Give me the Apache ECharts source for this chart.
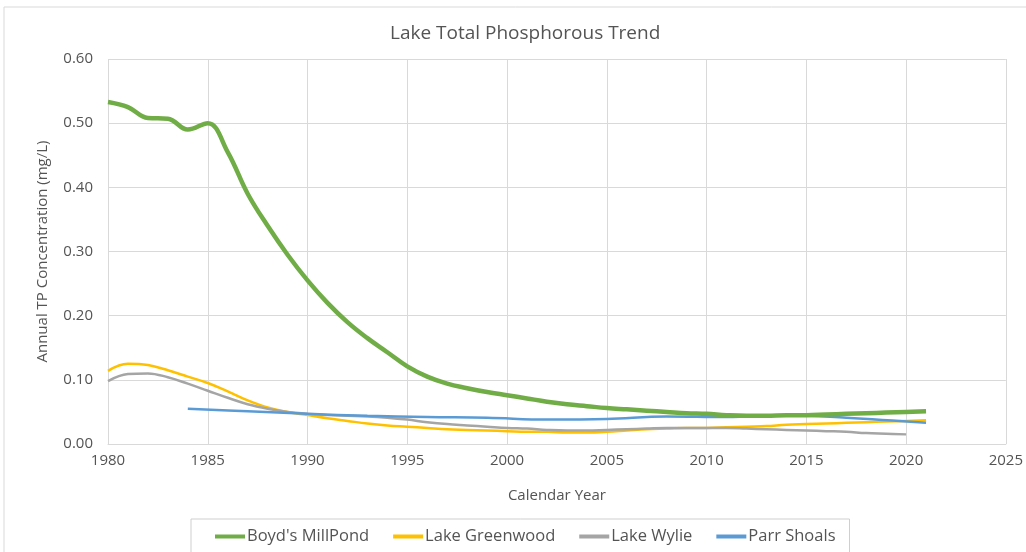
<!DOCTYPE html>
<html><head><meta charset="utf-8">
<script src="https://cdn.jsdelivr.net/npm/echarts@6/dist/echarts.min.js"></script>
<style>html,body{margin:0;padding:0;background:#fff}#c{width:1026px;height:552px}</style>
</head><body><div id="c"></div>
<script>
const boydYears = [1980,1981,1982,1983,1984,1985,1986,1987,1988,1989,1990,1991,1992,1993,1994,1995,1996,1997,1998,1999,2000,2001,2002,2003,2004,2005,2006,2007,2008,2009,2010,2011,2012,2013,2014,2015,2016,2017,2018,2019,2020,2021];
const boydValues = [0.533,0.525,0.508,0.507,0.490,0.500,0.455,0.390,0.340,0.295,0.255,0.220,0.190,0.165,0.143,0.121,0.105,0.094,0.087,0.081,0.076,0.071,0.066,0.062,0.059,0.056,0.054,0.052,0.050,0.048,0.047,0.045,0.044,0.044,0.045,0.045,0.046,0.047,0.048,0.049,0.050,0.051];
const greenwoodYears = boydYears;
const greenwoodValues = [0.114,0.125,0.123,0.115,0.105,0.095,0.082,0.068,0.057,0.050,0.045,0.040,0.036,0.032,0.029,0.027,0.025,0.023,0.022,0.021,0.020,0.019,0.019,0.018,0.018,0.019,0.021,0.023,0.024,0.025,0.025,0.026,0.027,0.028,0.030,0.031,0.032,0.033,0.034,0.035,0.036,0.037];
const wylieYears = boydYears.slice(0,41);
const wylieValues = [0.098,0.109,0.110,0.104,0.094,0.083,0.072,0.062,0.055,0.050,0.047,0.045,0.044,0.043,0.041,0.038,0.034,0.031,0.029,0.027,0.025,0.024,0.022,0.021,0.021,0.022,0.023,0.024,0.025,0.025,0.025,0.025,0.024,0.023,0.022,0.021,0.020,0.019,0.017,0.016,0.015];
const parrYears = [1984,1987,1990,1993,1996,1999,2002,2005,2008,2011,2014,2017,2021];
const parrValues = [0.055,0.051,0.047,0.044,0.042,0.041,0.038,0.039,0.043,0.042,0.045,0.041,0.033];
const yTicks = [0,0.1,0.2,0.3,0.4,0.5,0.6];

const pair = (xs, ys) => xs.map((x,i)=>[x, ys[i]]);
const font = 'Open Sans';
const txt = '#545454';
const chart = echarts.init(document.getElementById('c'));
chart.setOption({
  backgroundColor:'#fff',
  animation:false,
  graphic:[{type:'rect',shape:{x:4,y:7,width:1040,height:560},style:{fill:'none',stroke:'#d9d9d9',lineWidth:1},silent:true,z:-1}],
  title:{text:'Lake Total Phosphorous Trend',left:385,top:19,itemGap:0,textStyle:{fontFamily:font,fontSize:19,fontWeight:'normal',color:txt}},
  grid:{left:108,right:19,top:59,bottom:108},
  xAxis:{type:'value',min:1980,max:2025,interval:5,name:'Calendar Year',nameLocation:'middle',nameGap:44,
    nameTextStyle:{fontFamily:font,fontSize:15,color:txt},
    axisLine:{lineStyle:{color:'#d9d9d9'}},axisTick:{show:false},
    axisLabel:{fontFamily:font,fontSize:15,color:txt,margin:9,formatter:v=>String(v)},
    splitLine:{show:true,lineStyle:{color:'#d9d9d9'}}},
  yAxis:{type:'value',min:0,max:0.6,interval:0.1,name:'Annual TP Concentration (mg/L)',nameLocation:'middle',nameGap:58,
    nameTextStyle:{fontFamily:font,fontSize:15,color:txt},
    axisLine:{show:false},axisTick:{show:false},
    axisLabel:{fontFamily:font,fontSize:15,color:txt,margin:15,formatter:v=>v.toFixed(2)},
    splitLine:{lineStyle:{color:'#d9d9d9'}}},
  legend:{top:519,left:191,itemWidth:30,itemHeight:4,itemGap:24,padding:[9,14,30,24],borderColor:'#cfcfcf',borderWidth:1,
    icon:'rect',textStyle:{fontFamily:font,fontSize:16.5,color:txt,padding:[0,0,0,-3]},
    data:["Boyd's MillPond",'Lake Greenwood','Lake Wylie','Parr Shoals']},
  series:[
    {name:"Boyd's MillPond",type:'line',smooth:0.4,showSymbol:false,data:pair(boydYears,boydValues),lineStyle:{width:4.5,color:'#70AD47'},itemStyle:{color:'#70AD47'},z:5},
    {name:'Lake Greenwood',type:'line',smooth:0.4,showSymbol:false,data:pair(greenwoodYears,greenwoodValues),lineStyle:{width:2.5,color:'#FFC000'},itemStyle:{color:'#FFC000'}},
    {name:'Lake Wylie',type:'line',smooth:0.4,showSymbol:false,data:pair(wylieYears,wylieValues),lineStyle:{width:2.5,color:'#A5A5A5'},itemStyle:{color:'#A5A5A5'}},
    {name:'Parr Shoals',type:'line',smooth:0.4,showSymbol:false,data:pair(parrYears,parrValues),lineStyle:{width:2.5,color:'#5B9BD5'},itemStyle:{color:'#5B9BD5'}}
  ]
});
</script></body></html>
